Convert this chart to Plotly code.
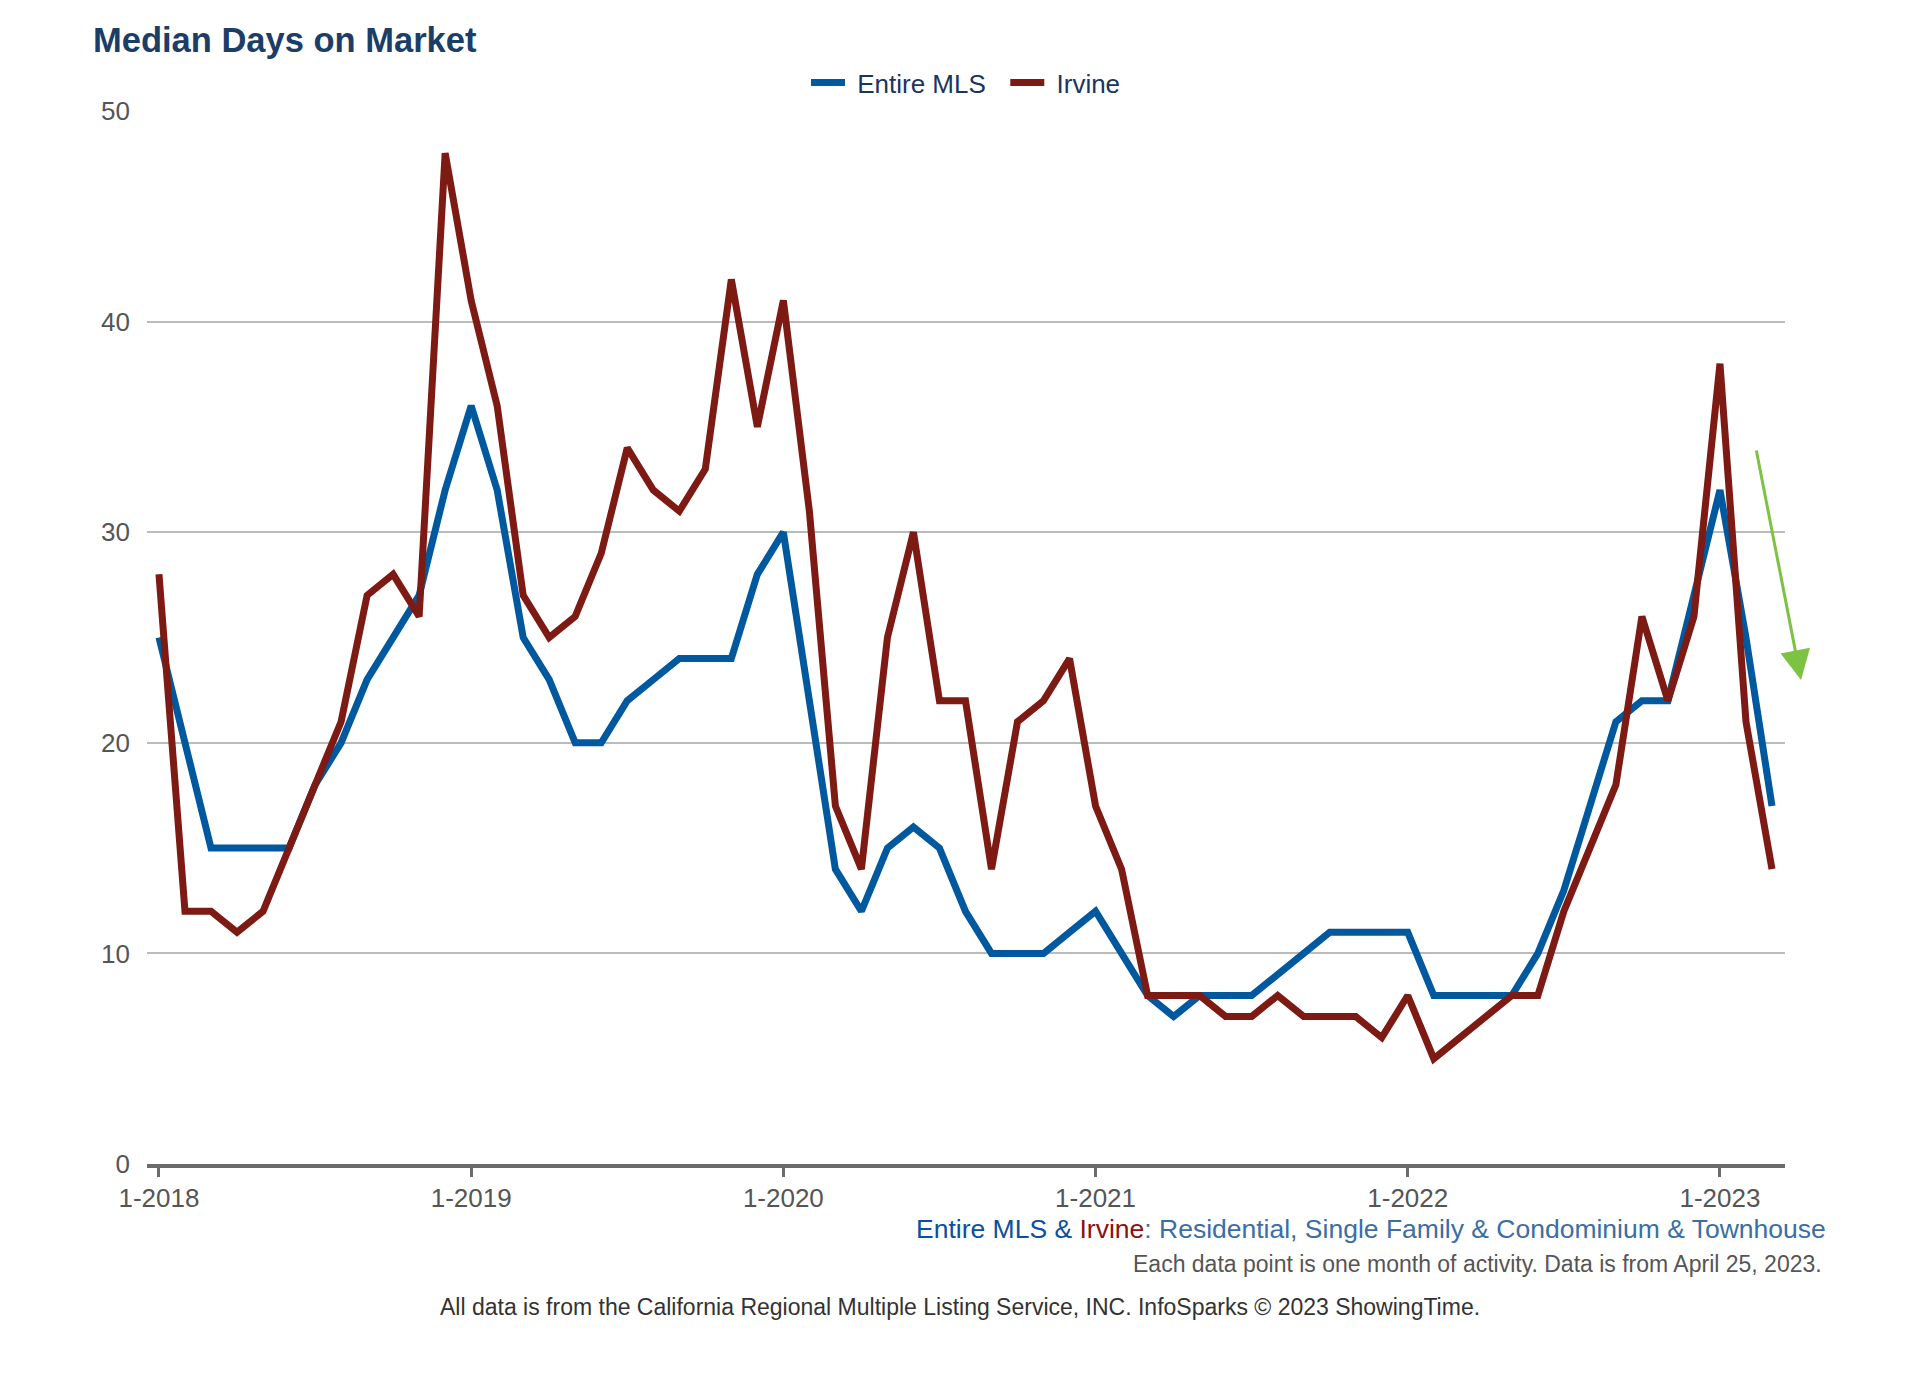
import plotly.graph_objects as go

years = [2018, 2019, 2020, 2021, 2022, 2023]
months = [f"{m}-{y}" for y in years for m in range(1, 13)][:63]

entire_mls = [25, 20, 15, 15, 15, 15, 18, 20, 23, 25, 27, 32,
              36, 32, 25, 23, 20, 20, 22, 23, 24, 24, 24, 28,
              30, 22, 14, 12, 15, 16, 15, 12, 10, 10, 10, 11,
              12, 10, 8, 7, 8, 8, 8, 9, 10, 11, 11, 11,
              11, 8, 8, 8, 8, 10, 13, 17, 21, 22, 22, 27,
              32, 25, 17]

irvine = [28, 12, 12, 11, 12, 15, 18, 21, 27, 28, 26, 48,
          41, 36, 27, 25, 26, 29, 34, 32, 31, 33, 42, 35,
          41, 31, 17, 14, 25, 30, 22, 22, 14, 21, 22, 24,
          17, 14, 8, 8, 8, 7, 7, 8, 7, 7, 7, 6,
          8, 5, 6, 7, 8, 8, 12, 15, 18, 26, 22, 26,
          38, 21, 14]

x_tick_vals = ["1-2018", "1-2019", "1-2020", "1-2021", "1-2022", "1-2023"]
y_tick_vals = [0, 10, 20, 30, 40, 50]

BLUE = "#00599F"
RED = "#7E1A14"
FONT = "Liberation Sans, Arial, Helvetica, sans-serif"
NB = "\u00a0"

W, H = 1904, 1365  # page body has an 8px margin

fig = go.Figure()
fig.add_trace(go.Scatter(x=months, y=entire_mls, mode="lines", name=NB + "Entire MLS" + NB + NB,
                         line=dict(color=BLUE, width=7)))
fig.add_trace(go.Scatter(x=months, y=irvine, mode="lines", name=NB + "Irvine",
                         line=dict(color=RED, width=7)))

fig.update_layout(
    width=W, height=H,
    margin=dict(l=139, r=127, t=103, b=209),
    paper_bgcolor="white", plot_bgcolor="white",
    font=dict(family=FONT, color="#555555", size=26),
    title=dict(text="<b>Median Days on Market</b>", x=85/W, xanchor="left", xref="container",
               y=1 - 32/H, yanchor="middle", yref="container",
               font=dict(family=FONT, size=34.5, color="#1B3D66")),
    legend=dict(orientation="h", x=0.5, xanchor="center", y=1.027, yanchor="middle",
                font=dict(family=FONT, size=26, color="#1B3460"), itemwidth=34,
                bgcolor="rgba(0,0,0,0)"),
    showlegend=True,
)

fig.update_xaxes(type="category", range=[-0.46, 62.5], tickmode="array",
                 tickvals=x_tick_vals, ticktext=x_tick_vals,
                 showgrid=False, showline=True, linecolor="#6B6B6B", linewidth=4,
                 ticks="outside", ticklen=9, tickwidth=3, tickcolor="#6B6B6B",
                 tickfont=dict(family=FONT, size=26, color="#555555"),
                 ticklabelstandoff=-1, zeroline=False)
fig.update_yaxes(range=[0, 50], tickmode="array", tickvals=y_tick_vals,
                 showgrid=True, gridcolor="#BBBBBB", gridwidth=2,
                 zeroline=False, showline=False, ticks="",
                 tickfont=dict(family=FONT, size=26, color="#555555"),
                 ticklabelstandoff=16)

subtitle = ("<span style='color:#0B4F9E'>Entire MLS &amp; </span>"
            "<span style='color:#8B1010'>Irvine</span>"
            "<span style='color:#3A6EA5'>: Residential, Single Family &amp; Condominium &amp; Townhouse</span>")

fig.add_annotation(text=subtitle, xref="paper", yref="paper", x=1.026, y=-0.0613,
                   xanchor="right", yanchor="middle", showarrow=False,
                   font=dict(family=FONT, size=26.5))
fig.add_annotation(text="Each data point is one month of activity. Data is from April 25, 2023.",
                   xref="paper", yref="paper", x=1.0238, y=-0.0954,
                   xanchor="right", yanchor="middle", showarrow=False,
                   font=dict(family=FONT, size=23, color="#555555"))
fig.add_annotation(text="All data is from the California Regional Multiple Listing Service, INC. InfoSparks © 2023 ShowingTime.",
                   xref="paper", yref="paper", x=0.4963, y=-0.136,
                   xanchor="center", yanchor="middle", showarrow=False,
                   font=dict(family=FONT, size=23, color="#333333"))

# green trend arrow
fig.add_annotation(text="", xref="paper", yref="paper", x=1.0098, y=0.4596,
                   ax=-45, ay=-231, showarrow=True, arrowhead=2, arrowsize=2.0,
                   arrowwidth=3, arrowcolor="#7DC242")

fig.write_html("out.html")
